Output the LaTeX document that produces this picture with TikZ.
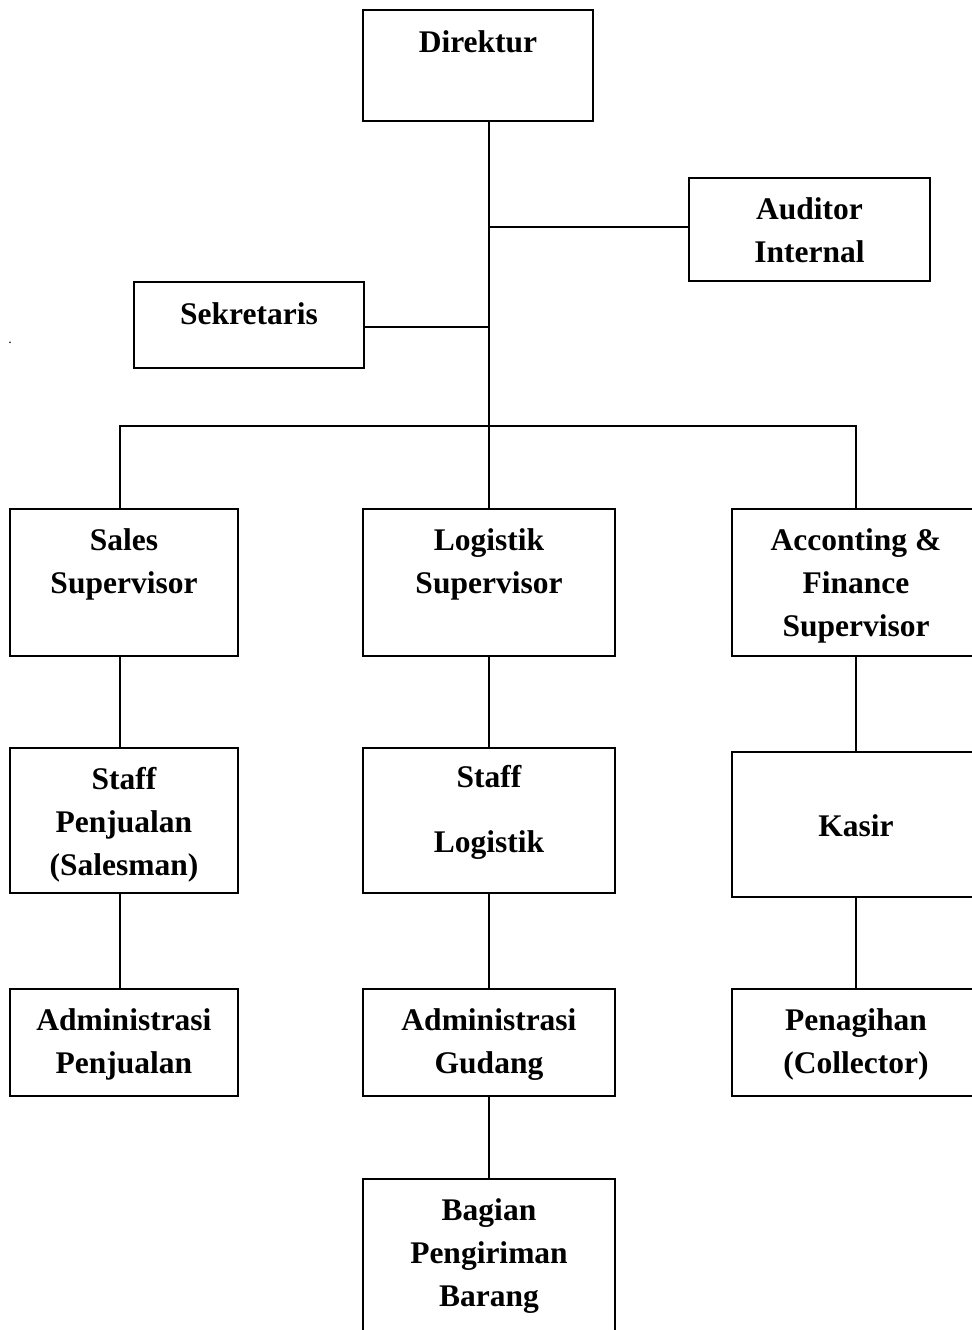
\documentclass[tikz,border=0pt]{standalone}
\usepackage{fontspec}
\setmainfont{Liberation Serif}
\usetikzlibrary{positioning}

\tikzset{
  orgbox/.style={draw, line width=0.9pt, inner sep=0pt},
  boxtext/.style={font=\bfseries\fontsize{15.75}{21.5}\selectfont, align=center, inner sep=0pt, execute at begin node=\strut},
  link/.style={line width=0.9pt}
}

\begin{document}
\begin{tikzpicture}[x=0.5pt, y=-0.5pt]

\useasboundingbox (0,0) rectangle (972,1330);
\clip (0,0) rectangle (972,1330);

% boxes
\node [orgbox, minimum width=115pt, minimum height=55.5pt] (direktur) at (478,65.5) {};
\node [orgbox, minimum width=120.5pt, minimum height=51.5pt] (auditor) at (809.5,229.5) {};
\node [orgbox, minimum width=115pt, minimum height=43pt] (sekretaris) at (249,325) {};

\node [orgbox, minimum width=114pt, minimum height=73.5pt] (sales) at (124,582.5) {};
\node [orgbox, minimum width=126pt, minimum height=73.5pt] (logistik) at (489,582.5) {};
\node [orgbox, minimum width=124pt, minimum height=73.5pt] (finance) at (856,582.5) {};

\node [orgbox, minimum width=114pt, minimum height=72.5pt] (staff-jual) at (124,820.5) {};
\node [orgbox, minimum width=126pt, minimum height=72.5pt] (staff-log) at (489,820.5) {};
\node [orgbox, minimum width=124pt, minimum height=72.5pt] (kasir) at (856,824.5) {};

\node [orgbox, minimum width=114pt, minimum height=53.5pt] (admin-jual) at (124,1042.5) {};
\node [orgbox, minimum width=126pt, minimum height=53.5pt] (admin-gudang) at (489,1042.5) {};
\node [orgbox, minimum width=124pt, minimum height=53.5pt] (penagihan) at (856,1042.5) {};

\node [orgbox, minimum width=126pt, minimum height=83pt] (pengiriman) at (489,1262) {};

% texts
\node [boxtext, below=6.5pt of direktur.north] (direktur-label) {Direktur};
\node [boxtext, below=10pt of auditor.north] (auditor-label) {Auditor\\Internal};
\node [boxtext, below=6.5pt of sekretaris.north] (sekretaris-label) {Sekretaris};
\node [boxtext, below=10pt of sales.north] (sales-label) {Sales\\Supervisor};
\node [boxtext, below=10pt of logistik.north] (logistik-label) {Logistik\\Supervisor};
\node [boxtext, below=10pt of finance.north] (finance-label) {Acconting \&\\Finance\\Supervisor};
\node [boxtext, below=10pt of staff-jual.north] (staff-jual-label) {Staff\\Penjualan\\(Salesman)};
\node [boxtext, below=9pt of staff-log.north] (staff-log-label) {Staff\\[11pt]Logistik};
\node [boxtext, execute at begin node={}] (kasir-label) at ([yshift=-1.5pt]kasir.center) {Kasir};
\node [boxtext, below=10pt of admin-jual.north] (admin-jual-label) {Administrasi\\Penjualan};
\node [boxtext, below=10pt of admin-gudang.north] (admin-gudang-label) {Administrasi\\Gudang};
\node [boxtext, below=10pt of penagihan.north] (penagihan-label) {Penagihan\\(Collector)};
\node [boxtext, below=10pt of pengiriman.north] (pengiriman-label) {Bagian\\Pengiriman\\Barang};

\node [inner sep=0pt, font=\scriptsize] (stray-dot) at (10,343) {.};

% connectors
\coordinate (trunk) at (489,426);

\draw [link] (direktur.south -| trunk) -- (trunk);
\draw [link] ([yshift=1.25pt]auditor.west) -- ([yshift=1.25pt]auditor.west -| trunk);
\draw [link] ([yshift=-1pt]sekretaris.east) -- ([yshift=-1pt]sekretaris.east -| trunk);
\draw [link] ([xshift=-2pt]sales.north) |- (trunk) -| (finance.north);
\draw [link] (trunk) -- (logistik.north);

\draw [link] ([xshift=-2pt]sales.south) -- ([xshift=-2pt]staff-jual.north);
\draw [link] ([xshift=-2pt]staff-jual.south) -- ([xshift=-2pt]admin-jual.north);
\draw [link] (logistik.south) -- (staff-log.north);
\draw [link] (staff-log.south) -- (admin-gudang.north);
\draw [link] (admin-gudang.south) -- (pengiriman.north);
\draw [link] (finance.south) -- (kasir.north);
\draw [link] (kasir.south) -- (penagihan.north);

\end{tikzpicture}
\end{document}
